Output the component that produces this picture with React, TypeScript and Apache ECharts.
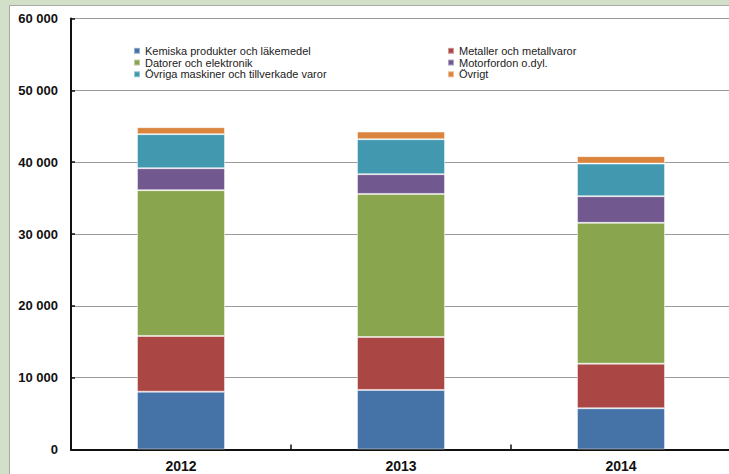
import React, { useEffect, useRef } from "react";
import * as echarts from "echarts";

const categories = ["2012", "2013", "2014"];
const seriesNames = [
  "Kemiska produkter och läkemedel",
  "Metaller och metallvaror",
  "Datorer och elektronik",
  "Motorfordon o.dyl.",
  "Övriga maskiner och tillverkade varor",
  "Övrigt",
];
const kemiska = [8050, 8290, 5740];
const metaller = [7760, 7380, 6210];
const datorer = [20290, 19910, 19600];
const motorfordon = [3060, 2750, 3710];
const ovrigaMaskiner = [4740, 4870, 4540];
const ovrigt = [970, 1060, 1040];
const seriesValues = [kemiska, metaller, datorer, motorfordon, ovrigaMaskiner, ovrigt];
const colors = ["#4572a7", "#aa4643", "#89a54e", "#71588f", "#4198af", "#db843d"];

const FONT = "'Liberation Sans', Arial, sans-serif";
const FRAME_GREEN = "#d3e0c9";
const FRAME_LINE = "#a8a8a8";

export default function App() {
  const ref = useRef<HTMLDivElement>(null);
  useEffect(() => {
    if (!ref.current) return;
    document.documentElement.style.overflow = "hidden";
    document.body.style.overflow = "hidden";
    document.body.style.margin = "0";
    const chart = echarts.init(ref.current, undefined, { renderer: "svg" });
    const legendCommon = {
      orient: "vertical",
      padding: 0,
      itemWidth: 6,
      itemHeight: 6,
      itemGap: 0,
      icon: "rect",
      selectedMode: false,
      textStyle: { fontSize: 11, color: "#222", fontFamily: FONT, lineHeight: 11.7 },
    };
    chart.setOption({
      animation: false,
      backgroundColor: "#ffffff",
      color: colors,
      textStyle: { fontFamily: FONT },
      graphic: [
        { type: "rect", z: -10, shape: { x: 0, y: 0, width: 9.5, height: 474 }, style: { fill: FRAME_GREEN } },
        { type: "rect", z: -10, shape: { x: 0, y: 0, width: 729, height: 5.5 }, style: { fill: FRAME_GREEN } },
        { type: "line", z: -9, shape: { x1: 9.5, y1: 5.5, x2: 9.5, y2: 474 }, style: { stroke: FRAME_LINE, lineWidth: 1 } },
        { type: "line", z: -9, shape: { x1: 9.5, y1: 5.5, x2: 729, y2: 5.5 }, style: { stroke: FRAME_LINE, lineWidth: 1 } },
      ],
      legend: [
        {
          ...legendCommon,
          left: 133,
          top: 45,
          data: [seriesNames[0], seriesNames[2], seriesNames[4]],
        },
        {
          ...legendCommon,
          left: 447,
          top: 45,
          data: [seriesNames[1], seriesNames[3], seriesNames[5]],
        },
      ],
      grid: { left: 71, width: 660, top: 18.5, bottom: 24.5, containLabel: false },
      xAxis: {
        type: "category",
        data: categories,
        axisLine: { show: true, lineStyle: { color: "#111", width: 2 } },
        axisTick: { show: true, inside: true, length: 5, lineStyle: { color: "#111", width: 1.5 } },
        axisLabel: { fontSize: 14, fontWeight: "bold", color: "#111", margin: 9, fontFamily: FONT },
      },
      yAxis: {
        type: "value",
        min: 0,
        max: 60000,
        interval: 10000,
        axisLine: { show: true, lineStyle: { color: "#111", width: 2 } },
        axisTick: { show: true, inside: true, length: 4, lineStyle: { color: "#111", width: 1.5 } },
        splitLine: { show: true, lineStyle: { color: "#9a9a9a", width: 1 } },
        axisLabel: {
          fontSize: 13,
          fontWeight: "bold",
          color: "#111",
          margin: 13,
          fontFamily: FONT,
          formatter: (v: number) => String(v).replace(/\B(?=(\d{3})+(?!\d))/g, " "),
        },
      },
      series: seriesNames.map((name, i) => ({
        name,
        type: "bar",
        stack: "total",
        barWidth: "40%",
        data: seriesValues[i],
        itemStyle: { color: colors[i], borderColor: "rgba(255,255,255,0.45)", borderWidth: 1 },
      })),
    });
    return () => chart.dispose();
  }, []);
  return (
    <div style={{ position: "fixed", left: 0, top: 0, width: 729, height: 474, overflow: "hidden", background: "#fff" }}>
      <div ref={ref} style={{ position: "absolute", left: 0, top: 0, width: 760, height: 474 }} />
    </div>
  );
}
